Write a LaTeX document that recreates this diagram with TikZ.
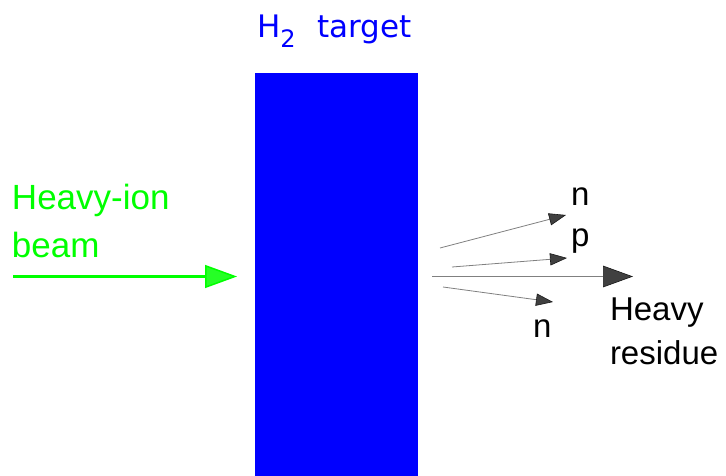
\documentclass[tikz,border=0pt]{standalone}
\usepackage{fontspec}
\setmainfont{Liberation Sans}
\newfontfamily\titlefont{DejaVu Sans}
\usetikzlibrary{arrows.meta}
\definecolor{pgreen}{RGB}{0,255,0}
\definecolor{pblue}{RGB}{0,0,255}
\begin{document}
\begin{tikzpicture}[x=1pt,y=-1pt,
  lbl/.style={anchor=base west, inner sep=0pt, outer sep=0pt},
  beamarrow/.style={draw=pgreen, line width=2.5pt,
    -{Triangle[length=32pt,width=23pt,line width=1.5pt,fill=pgreen!85!white]}},
  partarrow/.style={draw=black!50, line width=0.8pt,
    -{Triangle[length=#1,width=0.72*#1,line width=0.6pt,color=black!90,fill=black!75]}},
  partarrow/.default=17pt,
  bigfont/.style={font=\fontsize{35}{35}\selectfont},
  midfont/.style={font=\fontsize{33}{33}\selectfont},
  smallfont/.style={font=\fontsize{33}{33}\selectfont}]
\useasboundingbox (0,0) rectangle (726,476);
% target
\node[fill=pblue, minimum width=163pt, minimum height=403pt, inner sep=0pt,
      outer sep=0pt, anchor=north west] (target) at (255,73) {};
\node[lbl, text=pblue, font=\titlefont\fontsize{31}{31}\selectfont] (title) at (257,38)
  {H\raisebox{-10pt}{\fontsize{24}{24}\selectfont 2}\hspace{22pt}target};
% beam
\node[lbl, text=pgreen, bigfont] (beam1) at (12,210) {Heavy-ion};
\node[lbl, text=pgreen, bigfont] (beam2) at (12,257) {beam};
\coordinate (beamS) at (13,276.5);
\coordinate (beamE) at (237,276.5);
\draw[beamarrow] (beamS) -- (beamE);
% outgoing particles
\coordinate (resS) at (432,276.5);
\coordinate (resE) at (633,276.5);
\draw[partarrow=30pt] (resS) -- (resE);
\coordinate (n1S) at (440,248);
\coordinate (n1E) at (566,215);
\draw[partarrow] (n1S) -- (n1E);
\coordinate (pS) at (452,267);
\coordinate (pE) at (567,258);
\draw[partarrow] (pS) -- (pE);
\coordinate (n2S) at (443,287);
\coordinate (n2E) at (553,302);
\draw[partarrow] (n2S) -- (n2E);
% labels
\node[lbl, smallfont] (nup) at (571,206) {n};
\node[lbl, smallfont] (plab) at (571,246) {p};
\node[lbl, smallfont] (ndown) at (533,337) {n};
\node[lbl, midfont] (res1) at (610,320) {Heavy};
\node[lbl, midfont] (res2) at (610,364) {residue};
\end{tikzpicture}
\end{document}
